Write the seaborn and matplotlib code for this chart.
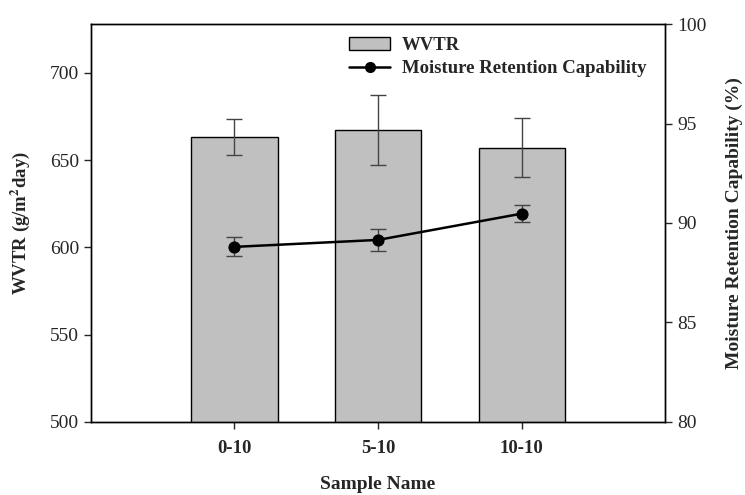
import numpy as np
import pandas as pd
import matplotlib
matplotlib.use("Agg")
import matplotlib.pyplot as plt
import seaborn as sns
from matplotlib.patches import Patch
from matplotlib.lines import Line2D

# Данные
samples = ["0-10", "5-10", "10-10"]
wvtr = [663.3, 667.3, 657.2]
wvtr_err = [10.3, 20.0, 17.0]
mrc = [88.8, 89.15, 90.47]
mrc_err = [0.48, 0.55, 0.44]

sns.set_theme(style="white")
plt.rcParams["font.family"] = ["Liberation Serif", "DejaVu Serif"]
plt.rcParams["mathtext.fontset"] = "stix"

df = pd.DataFrame({"Sample": samples, "WVTR": wvtr})

fig = plt.figure(figsize=(7.45, 4.95), dpi=100)
ax = fig.add_axes([0.122, 0.1475, 0.771, 0.804])

sns.barplot(data=df, x="Sample", y="WVTR", color="#c0c0c0", edgecolor="black",
            linewidth=1.0, width=0.6, saturation=1, errorbar=None, ax=ax)
pos = np.arange(len(samples))
ax.errorbar(pos, wvtr, yerr=wvtr_err, fmt="none", ecolor="#444444",
            elinewidth=1.0, capsize=6, capthick=1.0, zorder=5)

ax.set_xlim(-1, 3)
ax.set_ylim(500, 728)
ax.set_yticks([500, 550, 600, 650, 700])
ax.tick_params(axis="y", direction="out", length=5, width=1, labelsize=14, left=True)
ax.tick_params(axis="x", direction="out", length=5, width=1, labelsize=13.5, bottom=True, pad=8)
for lbl in ax.get_xticklabels():
    lbl.set_fontweight("bold")
ax.set_xlabel("Sample Name", fontsize=14, fontweight="bold", labelpad=14)
ax.set_ylabel(r"WVTR (g/m$^\mathbf{2}$day)", fontsize=13.5, fontweight="bold", labelpad=13)
for sp in ax.spines.values():
    sp.set_color("black")
    sp.set_linewidth(1.0)

ax2 = ax.twinx()
sns.lineplot(x=pos, y=mrc, color="black", linewidth=1.8, marker="o",
             markersize=8, markeredgecolor="black", ax=ax2)
ax2.errorbar(pos, mrc, yerr=mrc_err, fmt="none", ecolor="#444444",
             elinewidth=1.0, capsize=6, capthick=1.0, zorder=1)
ax2.set_ylim(80, 100)
ax2.set_yticks([80, 85, 90, 95, 100])
ax2.tick_params(axis="y", direction="out", length=5, width=1, labelsize=14, right=True)
ax2.set_ylabel("Moisture Retention Capability (%)", fontsize=14,
               fontweight="bold", labelpad=14)
for sp in ax2.spines.values():
    sp.set_color("black")
    sp.set_linewidth(1.0)

handles = [
    Patch(facecolor="#c0c0c0", edgecolor="black", linewidth=1.0),
    Line2D([0], [0], color="black", linewidth=1.8, marker="o", markersize=7),
]
ax2.legend(handles, ["WVTR", "Moisture Retention Capability"], loc="upper left",
           bbox_to_anchor=(0.43, 0.995), frameon=False,
           prop={"size": 13.5, "weight": "bold"}, handlelength=2.2,
           labelspacing=0.3, handletextpad=0.6, borderpad=0.1)

plt.savefig("out.png", dpi=100)
plt.close(fig)
